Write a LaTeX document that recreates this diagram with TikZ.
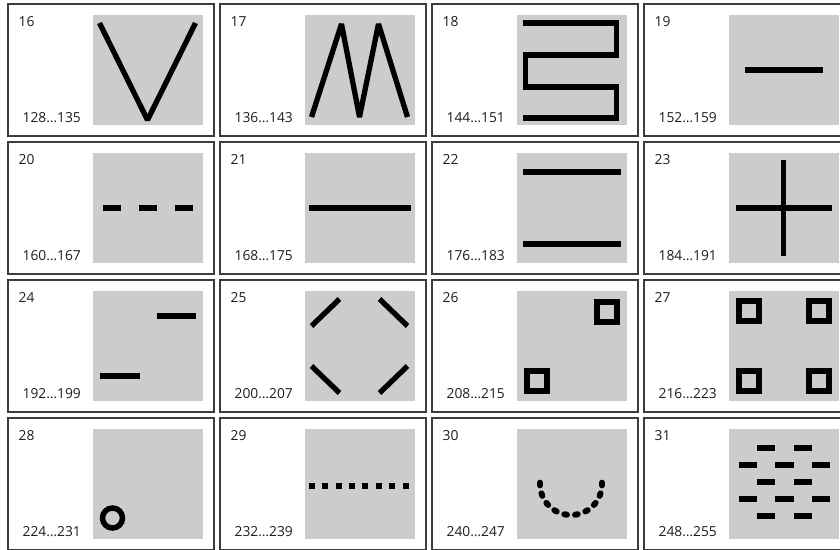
\documentclass[tikz,border=0pt]{standalone}
\usepackage{fontspec}
\setmainfont{Open Sans}
\definecolor{framegray}{RGB}{60,60,60}
\definecolor{boxgray}{RGB}{204,204,204}
\definecolor{textgray}{RGB}{30,30,30}
\newcommand\tilecell[4]{%
  \begin{scope}[shift={({212*#1+8},{138*#2+4})}]
    \draw[frame] (0,0) rectangle (206,132);
    \fill[sq] (84.5,11) rectangle ++(110,110);
    \node[lbl] (n#3) at (10.5,22) {#3};
    \node[lbl] (r#3) at (14.5,118.5) {#4};
  \end{scope}}
\begin{document}
\begin{tikzpicture}[x=1pt,y=-1pt,
  frame/.style={draw=framegray,line width=2pt},
  sq/.style={fill=boxgray},
  lbl/.style={font=\fontsize{13.8}{16}\selectfont,text=textgray,inner sep=0pt,anchor=base west},
  ink/.style={line width=5.3pt,draw=black},
  g/.style 2 args={shift={({212*#1+92.5},{138*#2+15})}}]
\useasboundingbox (0,0) rectangle (840,549);
\clip (0,0) rectangle (840,549);
\fill[white] (0,0) rectangle (840,549);

\tilecell{0}{0}{16}{128…135}
\tilecell{1}{0}{17}{136…143}
\tilecell{2}{0}{18}{144…151}
\tilecell{3}{0}{19}{152…159}
\tilecell{0}{1}{20}{160…167}
\tilecell{1}{1}{21}{168…175}
\tilecell{2}{1}{22}{176…183}
\tilecell{3}{1}{23}{184…191}
\tilecell{0}{2}{24}{192…199}
\tilecell{1}{2}{25}{200…207}
\tilecell{2}{2}{26}{208…215}
\tilecell{3}{2}{27}{216…223}
\tilecell{0}{3}{28}{224…231}
\tilecell{1}{3}{29}{232…239}
\tilecell{2}{3}{30}{240…247}
\tilecell{3}{3}{31}{248…255}

% 16
\begin{scope}[g={0}{0}]
  \draw[ink,line join=bevel] (7,8) -- (55,105) -- (103,8);
\end{scope}
% 17
\begin{scope}[g={1}{0}]
  \draw[ink,line join=bevel] (7,102) -- (37,9) -- (55,102) -- (74,9) -- (103,102);
\end{scope}
% 18
\begin{scope}[g={2}{0}]
  \draw[ink] (6,8) -| (100,40) -| (9,72) -| (100,103) -- (6,103);
\end{scope}
% 19
\begin{scope}[g={3}{0}]
  \draw[ink] (16,55) -- (94,55);
\end{scope}
% 20
\begin{scope}[g={0}{1}]
  \draw[ink,dash pattern=on 18pt off 18pt] (10,55) -- (100,55);
\end{scope}
% 21
\begin{scope}[g={1}{1}]
  \draw[ink] (4,55) -- (106,55);
\end{scope}
% 22
\begin{scope}[g={2}{1}]
  \draw[ink] (6,19) -- (104,19);
  \draw[ink] (6,91) -- (104,91);
\end{scope}
% 23
\begin{scope}[g={3}{1}]
  \draw[ink] (55,7) -- (55,103);
  \draw[ink] (7,55) -- (103,55);
\end{scope}
% 24
\begin{scope}[g={0}{2}]
  \draw[ink] (7,85) -- (47,85);
  \draw[ink] (64,25) -- (103,25);
\end{scope}
% 25
\begin{scope}[g={1}{2}]
  \draw[ink] (7,35) -- (35,8);
  \draw[ink] (75,8) -- (103,35);
  \draw[ink] (7,75) -- (35,102);
  \draw[ink] (75,102) -- (103,75);
\end{scope}
% 26
\begin{scope}[g={2}{2}]
  \draw[line width=6pt] (80,11) rectangle (100,31);
  \draw[line width=6pt] (10,80) rectangle (30,100);
\end{scope}
% 27
\begin{scope}[g={3}{2}]
  \draw[line width=6pt] (10,10) rectangle (30,30);
  \draw[line width=6pt] (80,10) rectangle (100,30);
  \draw[line width=6pt] (10,80) rectangle (30,100);
  \draw[line width=6pt] (80,80) rectangle (100,100);
\end{scope}
% 28
\begin{scope}[g={0}{3}]
  \draw[line width=5.5pt] (20,89) circle[radius=10];
\end{scope}
% 29
\begin{scope}[g={1}{3}]
  \foreach \k in {0,...,7}
    \fill ({4.3+13.4*\k},54) rectangle ++(6,6);
\end{scope}
% 30
\begin{scope}[g={2}{3}]
  \coordinate (c30) at (54.5,55);
  \foreach \a in {0,20,...,180}
    \draw[line width=6pt,line cap=round] (c30) ++({\a-2.5}:31) arc[start angle={\a-2.5},end angle={\a+2.5},radius=31];
\end{scope}
% 31
\begin{scope}[g={3}{3}]
  \foreach \yy in {19,53,87}{
    \draw[ink] (28.3,\yy) -- (46.7,\yy);
    \draw[ink] (65,\yy) -- (83.3,\yy);}
  \foreach \yy in {36,70}{
    \draw[ink] (10,\yy) -- (28.3,\yy);
    \draw[ink] (46.7,\yy) -- (65,\yy);
    \draw[ink] (83.3,\yy) -- (101.7,\yy);}
\end{scope}
\end{tikzpicture}
\end{document}
